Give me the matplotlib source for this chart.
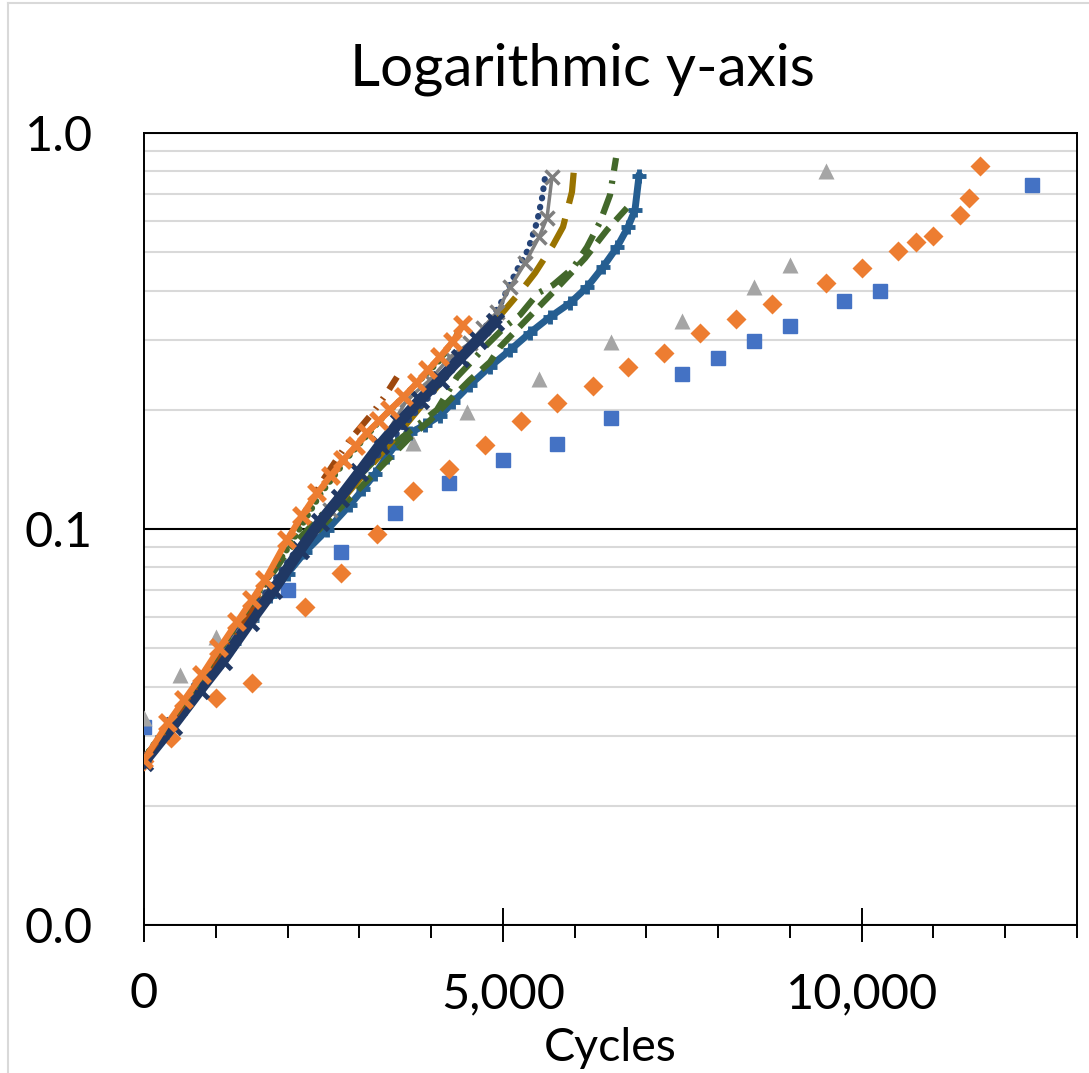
import matplotlib
matplotlib.use("Agg")
import matplotlib.pyplot as plt
from matplotlib.lines import Line2D
from matplotlib.ticker import LogLocator, FixedLocator, FuncFormatter, MultipleLocator

plt.rcParams["font.family"] = ["Lato", "DejaVu Sans"]

# scatter series (markers only)
squares_x = [0, 2000, 2750, 3500, 4250, 5000, 5750, 6500, 7500, 8000, 8500, 9000, 9750, 10250, 12375]
squares_y = [0.0316, 0.0701, 0.0875, 0.110, 0.131, 0.149, 0.164, 0.191, 0.246, 0.270, 0.298, 0.326,
             0.376, 0.399, 0.739]

diamonds_x = [0, 375, 1000, 1500, 2250, 2750, 3250, 3750, 4250, 4750, 5250, 5750, 6250, 6750, 7250,
              7750, 8250, 8750, 9500, 10000, 10500, 10750, 11000, 11375, 11500, 11650]
diamonds_y = [0.0260, 0.0297, 0.0374, 0.0408, 0.0636, 0.0774, 0.0971, 0.125, 0.142, 0.163, 0.187,
              0.208, 0.230, 0.256, 0.278, 0.313, 0.339, 0.370, 0.418, 0.456, 0.503, 0.530, 0.550,
              0.621, 0.685, 0.826]

triangles_x = [0, 500, 1000, 2000, 3750, 4500, 5500, 6500, 7500, 8500, 9000, 9500]
triangles_y = [0.0333, 0.0428, 0.0534, 0.0944, 0.165, 0.197, 0.239, 0.297, 0.335, 0.408, 0.464, 0.802]

# line series
a_x = [0, 250, 500, 750, 1000, 1250, 1500, 1750, 2000, 2250, 2550, 2870, 3050, 3220, 3380, 3525,
       3706, 3915, 4124, 4305, 4542, 4821, 5100, 5378, 5657, 5936, 6173, 6396, 6591, 6744, 6841, 6897]
a_y = [0.0261, 0.0299, 0.0344, 0.0393, 0.0450, 0.0516, 0.0590, 0.0676, 0.0772, 0.0877, 0.0994,
       0.115, 0.126, 0.138, 0.152, 0.165, 0.175, 0.183, 0.193, 0.209, 0.231, 0.257, 0.283, 0.313,
       0.343, 0.372, 0.408, 0.459, 0.515, 0.579, 0.639, 0.778]

b_x = [0, 400, 780, 1100, 1477, 1800, 2174, 2450, 2731, 3000, 3288, 3560, 3846, 4120, 4403, 4650, 4891]
b_y = [0.0258, 0.0318, 0.0392, 0.0465, 0.0582, 0.0700, 0.0885, 0.104, 0.120, 0.139, 0.163, 0.186,
       0.212, 0.238, 0.270, 0.300, 0.333]

c_x = [0, 1477, 2592, 3288, 3665, 3985, 4264, 4542, 4723, 4918, 5100, 5309, 5504, 5615, 5685]
c_y = [0.0261, 0.0607, 0.112, 0.163, 0.212, 0.238, 0.272, 0.295, 0.322, 0.353, 0.408, 0.469, 0.546,
       0.610, 0.774]

d_x = [0, 2174, 3567, 4542, 4960, 5197, 5350, 5476, 5546, 5587]
d_y = [0.0261, 0.0911, 0.178, 0.283, 0.368, 0.451, 0.507, 0.596, 0.685, 0.770]

e_x = [0, 2174, 3567, 4682, 5002, 5267, 5448, 5699, 5838, 5963, 6005]
e_y = [0.0261, 0.089, 0.176, 0.309, 0.353, 0.402, 0.443, 0.521, 0.579, 0.710, 0.865]

f_x = [0, 2034, 3288, 4082, 4361, 4584, 4779, 5030, 5239, 5490, 5699, 5977, 6172, 6354, 6493, 6577]
f_y = [0.0261, 0.0895, 0.154, 0.200, 0.242, 0.267, 0.292, 0.324, 0.347, 0.394, 0.413, 0.456, 0.515,
       0.596, 0.697, 0.865]

g_x = [0, 2300, 3700, 3985, 4264, 4542, 4821, 4960, 5727, 6145, 6451, 6730]
g_y = [0.0261, 0.094, 0.170, 0.188, 0.212, 0.238, 0.264, 0.288, 0.401, 0.483, 0.569, 0.647]

h_x = [0, 334, 560, 808, 1050, 1296, 1500, 1686, 1992, 2200, 2410, 2600, 2773, 2950, 3107, 3270,
       3428, 3620, 3804, 3960, 4124, 4300, 4445]
h_y = [0.0261, 0.0324, 0.0370, 0.0428, 0.0500, 0.0582, 0.0660, 0.0743, 0.0938, 0.108, 0.123, 0.136,
       0.149, 0.162, 0.175, 0.187, 0.200, 0.216, 0.234, 0.252, 0.272, 0.297, 0.327]

i_x = [0, 1477, 2494, 2870, 3191, 3358, 3525]
i_y = [0.0261, 0.0624, 0.133, 0.168, 0.197, 0.217, 0.242]

j_x = [0, 780, 1616, 2034, 2452, 2870, 3288, 3706, 4124, 4473]
j_y = [0.0264, 0.0416, 0.0701, 0.0911, 0.122, 0.154, 0.188, 0.224, 0.267, 0.333]

W, H = 1089, 1073
fig = plt.figure(figsize=(W / 100, H / 100), dpi=100)
ax = fig.add_axes([144 / W, (H - 925) / H, 933 / W, 792 / H])

# chart frame
fig.add_artist(Line2D([8 / W, 1], [1 - 3 / H, 1 - 3 / H], color="#D9D9D9", lw=1.5))
fig.add_artist(Line2D([8 / W, 8 / W], [0, 1 - 3 / H], color="#D9D9D9", lw=1.5))

# markers-only series
ax.plot(squares_x, squares_y, ls="none", marker="s", ms=10.5, color="#4472C4", zorder=3)
ax.plot(diamonds_x, diamonds_y, ls="none", marker="D", ms=10.5, color="#ED7D31", mec="none", zorder=3)
ax.plot(triangles_x, triangles_y, ls="none", marker="^", ms=12, color="#A5A5A5", mec="none", zorder=3)

# line series
ax.plot(a_x, a_y, color="#255E91", lw=5, marker="+", ms=10, mew=3.5, zorder=4)
ax.plot(g_x, g_y, color="#43682B", lw=4.5, ls=(0, (3, 1.6)), zorder=4)
ax.plot(f_x, f_y, color="#43682B", lw=4.5, ls=(0, (3.5, 1.6, 0.5, 1.6)), zorder=4)
ax.plot(e_x, e_y, color="#997300", lw=4.5, ls=(0, (5, 2.5)), zorder=4)
ax.plot(d_x, d_y, color="#264478", lw=4.5, ls=(0, (0.1, 1.4)), dash_capstyle="round", zorder=4)
ax.plot(c_x, c_y, color="#7F7F7F", lw=2.5, marker="x", ms=10, mew=2.5, zorder=4)
ax.plot(b_x, b_y, color="#203864", lw=8, marker="x", ms=11, mew=3.5, zorder=5)
ax.plot(i_x, i_y, color="#9E480E", lw=4.5, ls=(0, (3.5, 1.6, 0.3, 1.6, 0.3, 1.6)), zorder=5)
ax.plot(j_x, j_y, color="#43682B", lw=4.5, ls=(0, (0.1, 1.2)), dash_capstyle="round", zorder=5)
ax.plot(h_x, h_y, color="#ED7D31", lw=4.5, marker="x", ms=12, mew=4, zorder=6)

ax.set_yscale("log")
ax.set_ylim(0.01, 1.0)
ax.set_xlim(0, 13000)

ax.yaxis.set_major_locator(FixedLocator([0.01, 0.1, 1.0]))
ax.yaxis.set_major_formatter(FuncFormatter(lambda v, p: "%.1f" % v))
ax.yaxis.set_minor_locator(LogLocator(base=10, subs=range(2, 10)))
ax.yaxis.set_minor_formatter(FuncFormatter(lambda v, p: ""))
ax.grid(True, axis="y", which="minor", color="#D9D9D9", lw=1.5, zorder=0)
ax.grid(True, axis="y", which="major", color="black", lw=1.5, zorder=1)
ax.set_axisbelow(True)

ax.xaxis.set_major_locator(MultipleLocator(5000))
ax.xaxis.set_minor_locator(MultipleLocator(1000))
ax.xaxis.set_major_formatter(FuncFormatter(lambda v, p: "{:,.0f}".format(v)))

ax.tick_params(axis="x", which="major", direction="inout", length=24, width=1.4,
               labelsize=35, pad=22)
ax.tick_params(axis="x", which="minor", direction="out", length=9.4, width=1.4)
ax.tick_params(axis="y", which="both", length=0, labelsize=35, pad=37)

for s in ax.spines.values():
    s.set_color("black")
    s.set_linewidth(1.4)

ax.set_xlabel("Cycles", fontsize=33.5, va="baseline")
ax.xaxis.set_label_coords(0.5, -0.172)

fig.text(582 / W, 1 - 85 / H, "Logarithmic y-axis", fontsize=42, ha="center", va="baseline")

fig.savefig("out.png", dpi=100)
